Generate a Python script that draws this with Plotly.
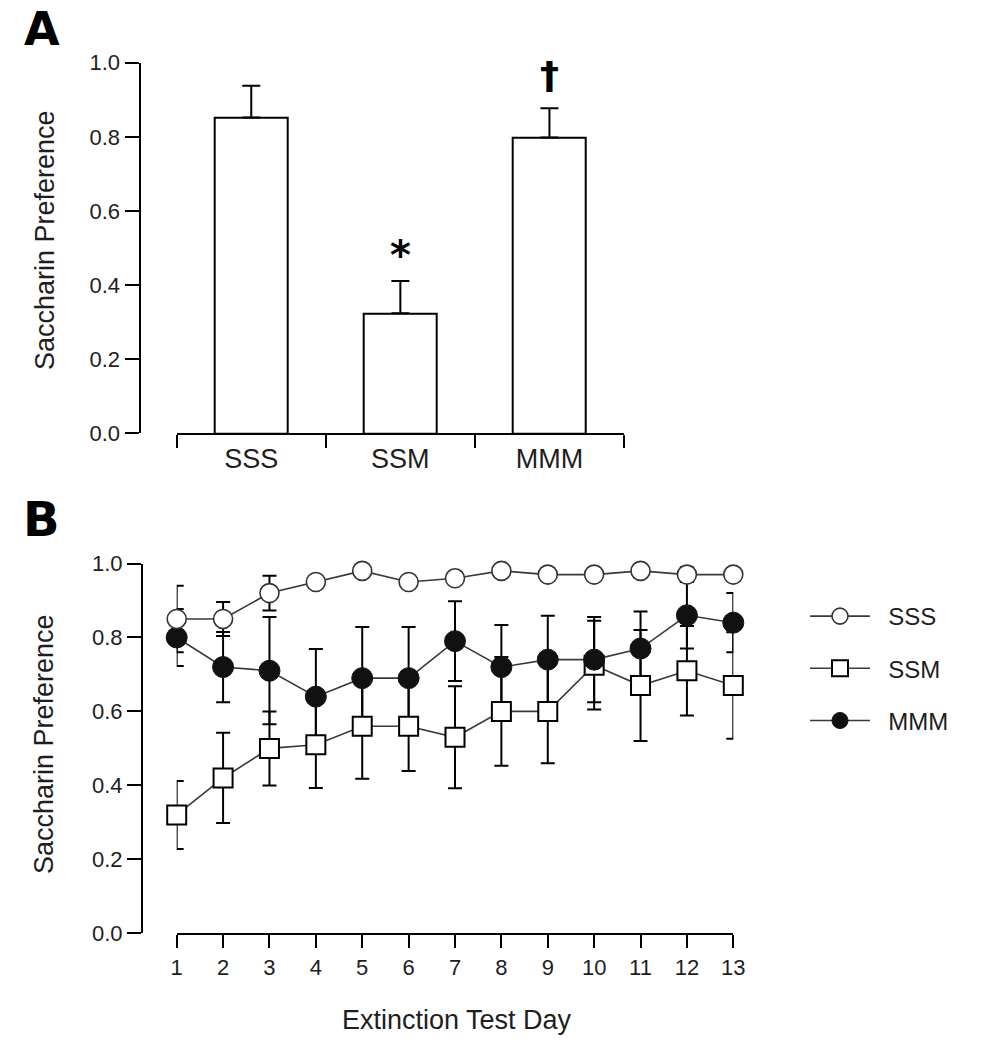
import plotly.graph_objects as go

# ---------------- data ----------------
groups = ["SSS", "SSM", "MMM"]
bar_mean = [0.852, 0.324, 0.798]
bar_sem = [0.086, 0.087, 0.079]
sig_marks = ["", "*", "†"]

days = list(range(1, 14))
day_ticks = [str(d) for d in days]
sss_mean = [0.85, 0.85, 0.92, 0.95, 0.98, 0.95, 0.96, 0.98, 0.97, 0.97, 0.98, 0.97, 0.97]
sss_sem = [0.09, 0.046, 0.047, 0.015, 0.01, 0.015, 0.015, 0.01, 0.01, 0.01, 0.01, 0.02, 0.015]
ssm_mean = [0.32, 0.42, 0.50, 0.51, 0.56, 0.56, 0.53, 0.60, 0.60, 0.725, 0.67, 0.71, 0.67]
ssm_sem = [0.092, 0.122, 0.10, 0.117, 0.142, 0.121, 0.138, 0.147, 0.14, 0.12, 0.15, 0.121, 0.144]
mmm_mean = [0.80, 0.72, 0.71, 0.64, 0.69, 0.69, 0.79, 0.72, 0.74, 0.74, 0.77, 0.86, 0.84]
mmm_sem = [0.077, 0.095, 0.145, 0.129, 0.138, 0.138, 0.108, 0.114, 0.119, 0.115, 0.10, 0.09, 0.08]
y_ticks = [0.0, 0.2, 0.4, 0.6, 0.8, 1.0]

# ---------------- layout helpers ----------------
W, H = 982, 1050
FONT = "Liberation Sans, Arial, sans-serif"
INK = "#1e1e1e"


def px_x(v):
    return v / W


def px_y(v):
    return 1 - v / H


fig = go.Figure()

# ---------------- Panel A: bars ----------------
fig.add_trace(go.Bar(
    x=groups, y=bar_mean, width=0.49,
    marker=dict(color="white", line=dict(color="black", width=2)),
    error_y=dict(type="data", array=bar_sem, arrayminus=[0] * len(bar_sem),
                 symmetric=False, thickness=2, width=9, color="black"),
    xaxis="x", yaxis="y", showlegend=False, cliponaxis=False,
))

for i, m in enumerate(sig_marks):
    if m:
        fig.add_annotation(
            x=groups[i], y=bar_mean[i] + bar_sem[i], xref="x", yref="y",
            text=m, showarrow=False, xanchor="center", yanchor="bottom",
            yshift=(1 if m == "*" else 9),
            font=dict(family="DejaVu Sans, sans-serif", size=(40 if m == "*" else 38),
                      color="black", weight="bold"),
        )

# ---------------- Panel B: lines ----------------
series = [
    ("SSS", sss_mean, sss_sem),
    ("SSM", ssm_mean, ssm_sem),
    ("MMM", mmm_mean, mmm_sem),
]
# error bars first (drawn beneath every marker)
for name, mean, sem in series:
    fig.add_trace(go.Scatter(
        x=days, y=mean, mode="markers",
        marker=dict(size=1, opacity=0),
        error_y=dict(type="data", array=sem, thickness=2, width=7, color="black"),
        xaxis="x2", yaxis="y2", showlegend=False, hoverinfo="skip", cliponaxis=False,
    ))

styles = {
    "SSS": dict(symbol="circle", size=19, color="white", line=dict(color="#333333", width=1.6)),
    "SSM": dict(symbol="square", size=19, color="white", line=dict(color="black", width=2)),
    "MMM": dict(symbol="circle", size=21, color="#111111", line=dict(color="#111111", width=1)),
}
rank = {"SSS": 1, "SSM": 2, "MMM": 3}
for name, mean, sem in [series[1], series[2], series[0]]:
    fig.add_trace(go.Scatter(
        x=days, y=mean, mode="lines+markers", name="\u00a0\u00a0" + name,
        line=dict(color="#3a3a3a", width=1.6),
        marker=styles[name], cliponaxis=False,
        xaxis="x2", yaxis="y2", legendrank=rank[name], legendgroup=name,
    ))

# ---------------- axes ----------------
axis_common = dict(showgrid=False, zeroline=False, showline=True, linecolor="black",
                   linewidth=2, ticks="outside", tickcolor="black", tickwidth=2,
                   automargin=False)

fig.update_layout(
    width=W, height=H, autosize=False,
    margin=dict(l=0, r=0, t=0, b=0, pad=0, autoexpand=False),
    paper_bgcolor="white", plot_bgcolor="white",
    font=dict(family=FONT, color=INK),
    bargap=0,
    xaxis=dict(domain=[px_x(176.7), px_x(624)], anchor="y", type="category",
               range=[-0.5, 2.5], tickson="boundaries", ticklen=13,
               tickfont=dict(size=27, color=INK), **axis_common),
    yaxis=dict(domain=[px_y(433.3), px_y(62.7)], anchor="free", position=px_x(139.5),
               range=[0, 1.0], tickvals=y_ticks, tickformat=".1f", ticklen=14,
               tickfont=dict(size=22, color=INK), **axis_common),
    xaxis2=dict(domain=[px_x(176.7), px_x(733.3)], anchor="y2", range=[1, 13],
                tickvals=days, ticktext=day_ticks, ticklen=13,
                tickfont=dict(size=22, color=INK), **axis_common),
    yaxis2=dict(domain=[px_y(933.3), px_y(563.5)], anchor="free", position=px_x(142),
                range=[0, 1.0], tickvals=y_ticks, tickformat=".1f", ticklen=14,
                tickfont=dict(size=22, color=INK), **axis_common),
    legend=dict(x=px_x(805), y=px_y(594), xanchor="left", yanchor="top",
                font=dict(size=24, color=INK, family=FONT),
                tracegroupgap=18, itemwidth=60, bgcolor="rgba(0,0,0,0)"),
)

# titles and panel letters
ann_common = dict(xref="paper", yref="paper", showarrow=False,
                  xanchor="center", yanchor="middle")
fig.add_annotation(x=px_x(45), y=px_y(240), text="Saccharin Preference", textangle=-90,
                   font=dict(size=27, color=INK), **ann_common)
fig.add_annotation(x=px_x(44), y=px_y(744), text="Saccharin Preference", textangle=-90,
                   font=dict(size=27, color=INK), **ann_common)
fig.add_annotation(x=px_x(457), y=px_y(1020), text="Extinction Test Day",
                   font=dict(size=27, color=INK), **ann_common)
fig.add_annotation(x=px_x(41.5), y=1, xref="paper", yref="paper", showarrow=False,
                   xanchor="center", yanchor="top", text="<b>A</b>",
                   font=dict(family="DejaVu Sans, sans-serif", size=46, color="black"))
fig.add_annotation(x=px_x(41), y=px_y(518.5), text="<b>B</b>",
                   font=dict(family="DejaVu Sans, sans-serif", size=48, color="black"),
                   **ann_common)

fig.write_html(
    "out.html",
    config={"displayModeBar": False},
    post_script=("document.body.style.margin='0';"
                 "document.body.style.overflow='hidden';"
                 "document.documentElement.style.overflow='hidden';"),
)
